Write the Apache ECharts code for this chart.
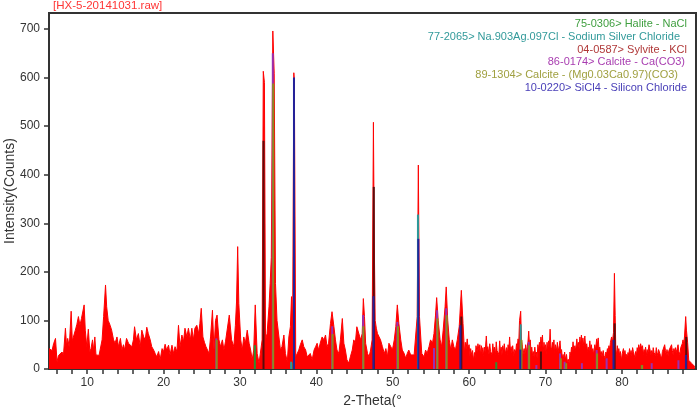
<!DOCTYPE html>
<html><head><meta charset="utf-8">
<script src="https://cdn.jsdelivr.net/npm/echarts@6/dist/echarts.min.js"></script>
<style>html,body{margin:0;padding:0;background:#fff}#c{width:700px;height:407px}</style>
</head><body><div id="c"></div>
<script>
// Measured diffraction pattern: [2-theta (deg), intensity (counts)]
const pattern = [[5.0,42],[5.2,40],[5.4,38],[5.6,52],[5.85,63],[6.05,15],[6.25,28],[6.45,32],[6.7,35],[6.9,30],[7.15,84],[7.3,48],[7.45,63],[7.65,45],[7.9,119],[8.05,58],[8.25,60],[8.45,80],[8.65,92],[8.85,108],[9.05,90],[9.25,104],[9.45,108],[9.6,132],[9.75,80],[9.95,46],[10.15,82],[10.35,35],[10.5,42],[10.7,60],[10.85,38],[11.0,66],[11.15,29],[11.35,25],[11.55,28],[11.7,32],[11.95,60],[12.15,108],[12.4,173],[12.55,128],[12.75,100],[13.0,90],[13.2,80],[13.45,60],[13.65,53],[13.9,66],[14.1,46],[14.35,63],[14.55,39],[14.75,50],[14.9,39],[15.15,63],[15.4,53],[15.6,56],[15.85,46],[16.05,60],[16.2,87],[16.45,60],[16.7,73],[16.95,46],[17.15,80],[17.4,66],[17.6,60],[17.8,86],[18.0,73],[18.25,60],[18.45,46],[18.7,39],[18.9,32],[19.1,25],[19.35,36],[19.55,19],[19.8,42],[20.0,36],[20.2,51],[20.4,39],[20.65,49],[20.85,29],[21.1,49],[21.3,32],[21.5,46],[21.75,36],[21.95,90],[22.15,46],[22.4,70],[22.6,56],[22.8,84],[23.05,66],[23.25,84],[23.5,60],[23.7,84],[23.9,60],[24.1,84],[24.35,90],[24.6,73],[24.75,94],[24.93,125],[25.15,66],[25.35,55],[25.55,46],
[25.75,39],[25.95,32],[26.15,66],[26.4,121],[26.6,39],[26.8,100],[27.0,111],[27.25,60],[27.45,46],[27.7,60],[27.9,39],[28.1,56],[28.3,53],[28.6,111],[28.9,60],[29.2,46],[29.4,90],[29.55,138],[29.7,252],[29.85,135],[30.1,60],[30.3,39],[30.5,66],[30.7,53],[30.95,80],[31.2,53],[31.4,39],[31.6,19],[31.8,39],[32.0,132],[32.25,32],[32.5,12],[32.7,15],[32.9,60],[33.05,613],[33.2,590],[33.35,60],[33.55,73],[33.8,128],[33.95,176],[34.1,230],[34.3,696],[34.48,609],[34.65,176],[34.85,100],[35.05,100],[35.3,39],[35.5,46],[35.75,70],[35.95,32],[36.2,15],[36.4,66],[36.6,87],[36.75,149],[36.9,100],[37.05,610],[37.12,595],[37.3,25],[37.5,22],[37.7,39],[37.9,50],[38.15,60],[38.35,46],[38.6,39],[38.8,25],[39.0,29],[39.2,32],[39.45,19],[39.7,39],[39.9,46],[40.1,53],[40.3,39],[40.5,53],[40.75,66],[41.0,60],[41.2,70],[41.4,46],[41.6,53],[41.85,94],[42.05,118],[42.3,87],[42.5,60],[42.7,39],[42.95,32],[43.15,60],[43.4,104],[43.6,53],[43.8,39],[44.0,19],[44.25,12],[44.45,25],[44.7,39],[44.9,60],[45.1,53],[45.3,87],[45.55,84],[45.8,60],[46.0,73],[46.15,145],[46.3,108],[46.45,53],[46.7,32],[46.9,25],[47.1,39],[47.3,60],[47.47,508],[47.57,280],[47.7,100],[47.85,84],[48.0,73],[48.2,77],[48.4,60],[48.65,46],[48.9,32],[49.1,42],[49.3,25],[49.5,53],[49.75,46],[49.95,39],[50.2,60],[50.4,87],[50.6,132],[50.8,94],[51.05,60],[51.25,39],[51.5,32],[51.7,22],[51.9,32],[52.1,39],[52.35,29],[52.6,25],[52.8,29],[53.0,32],[53.2,108],[53.35,420],[53.5,108],[53.8,32],[54.1,25],[54.3,39],[54.5,32],[54.75,46],[54.95,60],[55.2,53],[55.4,73],[55.6,111],[55.75,147],[55.95,100],[56.2,60],[56.4,46],[56.6,80],[56.85,128],[57.0,169],[57.2,100],[57.4,60],[57.6,39],[57.8,60],[58.0,46],[58.2,39],[58.45,60],[58.7,87],[58.98,162],[59.2,94],
[59.4,32],[59.5,55],[59.6,40],[59.75,62],[59.85,45],[60.0,50],[60.1,28],[60.2,42],[60.3,30],[60.45,38],[60.55,18],[60.7,34],[60.8,22],[60.9,48],[61.05,35],[61.15,52],[61.3,38],[61.4,50],[61.5,30],[61.6,48],[61.7,32],[61.8,44],[61.9,28],[62.0,45],[62.1,35],[62.25,68],[62.35,40],[62.45,46],[62.6,30],[62.7,52],[62.8,36],[62.9,40],[63.0,30],[63.1,52],[63.2,35],[63.3,45],[63.45,30],[63.55,56],[63.65,38],[63.8,42],[63.9,30],[64.0,58],[64.1,35],[64.2,45],[64.3,30],[64.4,48],[64.5,36],[64.6,52],[64.75,32],[64.9,44],[65.0,30],[65.1,50],[65.2,40],[65.3,66],[65.4,38],[65.5,46],[65.6,32],[65.7,48],[65.85,28],[65.95,40],[66.1,35],[66.2,52],[66.3,45],[66.4,62],[66.5,55],[66.6,100],[66.75,119],[66.85,60],[66.95,50],[67.05,30],[67.2,42],[67.3,30],[67.4,50],[67.5,35],[67.6,45],[67.7,55],[67.8,78],[67.9,50],[68.0,60],
[68.1,35],[68.2,45],[68.3,28],[68.4,36],[68.5,25],[68.6,45],[68.7,30],[68.8,35],[68.9,22],[69.0,50],[69.1,38],[69.2,55],[69.3,45],[69.4,66],[69.5,50],[69.6,70],[69.7,35],[69.8,55],[69.9,40],[70.0,50],[70.1,30],[70.2,55],[70.3,40],[70.4,58],[70.5,45],[70.6,82],[70.7,45],[70.8,40],[70.9,55],[71.0,42],[71.1,60],[71.2,32],[71.3,50],[71.45,38],[71.55,55],[71.65,36],[71.8,48],[71.9,58],[72.0,35],[72.1,40],[72.2,22],[72.3,30],[72.4,18],[72.5,35],[72.6,20],[72.75,30],[72.85,15],[72.97,20],[73.1,12],[73.2,35],[73.3,28],[73.4,45],[73.5,35],[73.6,56],[73.7,40],[73.85,48],[73.95,38],[74.1,62],[74.2,45],[74.3,55],[74.4,42],[74.5,66],[74.6,50],[74.7,70],[74.8,52],[74.9,64],[75.0,48],[75.15,68],[75.25,45],[75.4,52],[75.5,36],[75.6,45],[75.7,38],[75.8,58],[75.9,40],[76.0,50],[76.1,36],[76.2,42],[76.3,30],[76.45,50],[76.55,40],[76.7,62],[76.8,50],[76.9,64],[77.0,40],[77.1,45],[77.2,30],[77.3,36],[77.4,25],[77.55,38],[77.65,28],[77.8,22],[77.9,35],[78.0,30],[78.1,42],[78.2,36],[78.3,48],[78.4,40],[78.5,55],[78.65,66],[78.75,55],[78.9,75],[79.02,197],[79.12,110],[79.2,40],[79.3,30],
[79.4,48],[79.5,35],[79.6,42],[79.7,28],[79.8,36],[79.95,18],[80.05,32],[80.2,42],[80.3,30],[80.4,38],[80.5,25],[80.6,30],[80.7,22],[80.8,34],[80.9,28],[81.0,42],[81.1,30],[81.2,38],[81.3,28],[81.4,44],[81.5,36],[81.6,30],[81.7,22],[81.8,36],[81.9,28],[82.0,44],[82.1,36],[82.2,50],[82.3,40],[82.45,52],[82.6,42],[82.7,48],[82.8,30],[82.9,40],[83.0,35],[83.1,45],[83.2,28],[83.3,40],[83.4,32],[83.55,50],[83.65,42],[83.8,30],[83.9,38],[84.0,30],[84.1,44],[84.2,34],[84.3,38],[84.4,28],[84.5,44],[84.6,34],[84.7,28],[84.8,40],[84.95,36],[85.05,28],[85.2,22],[85.3,36],[85.4,40],[85.5,32],[85.6,50],[85.7,38],[85.8,30],[85.9,40],[86.05,28],[86.15,38],[86.3,42],[86.4,34],[86.5,50],[86.6,38],[86.7,30],[86.8,42],[86.9,36],[87.0,44],[87.1,34],[87.2,40],[87.35,50],[87.45,36],[87.6,30],[87.7,44],[87.8,40],[87.9,52],[88.0,60],[88.1,50],[88.2,68],[88.35,108],[88.45,80],[88.6,55],[88.75,18],[88.9,15],[89.1,12],[89.3,8],[89.55,5]];

// Reference stick patterns: [2-theta, height]
const halite   = [[31.95,49],[36.75,12],[63.55,14],[82.6,8]];
const naAgCl   = [[36.7,15],[53.3,318],[66.75,92]];
const sylvite  = [[33.08,470],[47.52,375],[58.98,108],[69.4,36],[79.05,94],[88.42,66]];
const calcite  = [[26.9,63],[34.3,650],[42.07,88],[46.12,111],[50.6,97],[55.4,43],[55.8,121],[57.0,125],[67.8,56],[68.8,8],[71.9,32],[72.5,15],[74.76,12],[76.7,39],[78.0,22],[83.9,12],[87.4,18]];
const mgCalcite= [[26.95,60],[34.35,588],[42.12,72],[46.15,88],[50.68,88],[55.85,104],[57.05,111],[66.85,60],[67.85,49],[72.0,22],[72.7,12],[76.75,32],[82.65,8]];
const sicl4    = [[37.07,600],[47.48,150],[53.35,268],[58.85,90],[66.7,40],[78.9,60],[88.38,29]];

const legendLines = [
  '75-0306> Halite - NaCl',
  '77-2065> Na.903Ag.097Cl - Sodium Silver Chloride',
  '04-0587> Sylvite - KCl',
  '86-0174> Calcite - Ca(CO3)',
  '89-1304> Calcite - (Mg0.03Ca0.97)(CO3)',
  '10-0220> SiCl4 - Silicon Chloride'
];
const xTickValues = [6,8,10,12,14,16,18,20,22,24,26,28,30,32,34,36,38,40,42,44,46,48,50,52,54,56,58,60,62,64,66,68,70,72,74,76,78,80,82,84,86,88];
const xLabelValues = [10,20,30,40,50,60,70,80];
const yLabelValues = [0,100,200,300,400,500,600,700];

const FONT = 'Liberation Sans, Arial, sans-serif';
const legendText = ['#3f9f3f','#329a9a','#b03838','#a83cb0','#a0a040','#4a40b8'];
const stickColors = ['#2f8f2f','#2a9a9a','#5a0c0c','#9a30b0','#8c8c20','#22229a'];
const legendRight = [687,680,687,685,678,687];
const legendY = [24,37,50,62,75,88];

function stickSeries(name, data, color){
  return {
    type:'custom', name:name, data:data, silent:true, z:3,
    encode:{x:0,y:1},
    renderItem:function(params, api){
      const p0 = api.coord([api.value(0), 0]);
      const p1 = api.coord([api.value(0), api.value(1)]);
      return {type:'line', shape:{x1:p0[0],y1:p0[1],x2:p1[0],y2:p1[1]}, style:{stroke:color, lineWidth:2}};
    }
  };
}

const chart = echarts.init(document.getElementById('c'));
const graphics = [
  {type:'text', left:53, top:0, style:{text:'[HX-5-20141031.raw]', fill:'#ff3535', font:'11.5px '+FONT}},
  {type:'text', x:10, y:191, rotation:Math.PI/2, style:{text:'Intensity(Counts)', fill:'#333', font:'14px '+FONT, align:'center', verticalAlign:'middle'}}
];
legendLines.forEach(function(t,i){
  graphics.push({type:'text', x:legendRight[i], y:legendY[i], style:{text:t, fill:legendText[i], font:'11px '+FONT, align:'right', verticalAlign:'middle'}});
});

chart.setOption({
  animation:false,
  textStyle:{fontFamily:FONT},
  grid:{left:49, right:4, top:13, bottom:38, show:true, containLabel:false, outerBoundsMode:'none',
        borderColor:'#333', borderWidth:2, backgroundColor:'rgba(0,0,0,0)'},
  xAxis:{type:'value', min:5, max:89.7,
    name:'2-Theta(°', nameLocation:'middle', nameGap:21,
    nameTextStyle:{fontSize:14, color:'#333', fontFamily:FONT},
    axisLine:{show:true, onZero:false, lineStyle:{color:'#333', width:2}},
    axisTick:{show:true, customValues:xTickValues, length:5, lineStyle:{color:'#333', width:1.5}},
    axisLabel:{customValues:xLabelValues, fontSize:12, color:'#333', margin:8},
    splitLine:{show:false}},
  yAxis:{type:'value', min:0, max:733,
    axisLine:{show:true, onZero:false, lineStyle:{color:'#333', width:2}},
    axisTick:{show:true, customValues:yLabelValues, length:5, lineStyle:{color:'#333', width:1.5}},
    axisLabel:{customValues:yLabelValues, fontSize:12, color:'#333', margin:9},
    splitLine:{show:false}},
  graphic:graphics,
  series:[
    {type:'line', data:pattern, showSymbol:false, symbol:'none', sampling:null, z:2,
     lineStyle:{color:'#ff0000', width:1}, areaStyle:{color:'#ff0000', opacity:1}},
    stickSeries('halite', halite, stickColors[0]),
    stickSeries('naAgCl', naAgCl, stickColors[1]),
    stickSeries('sylvite', sylvite, stickColors[2]),
    stickSeries('calcite', calcite, stickColors[3]),
    stickSeries('mgCalcite', mgCalcite, stickColors[4]),
    stickSeries('sicl4', sicl4, stickColors[5])
  ]
});
</script></body></html>
